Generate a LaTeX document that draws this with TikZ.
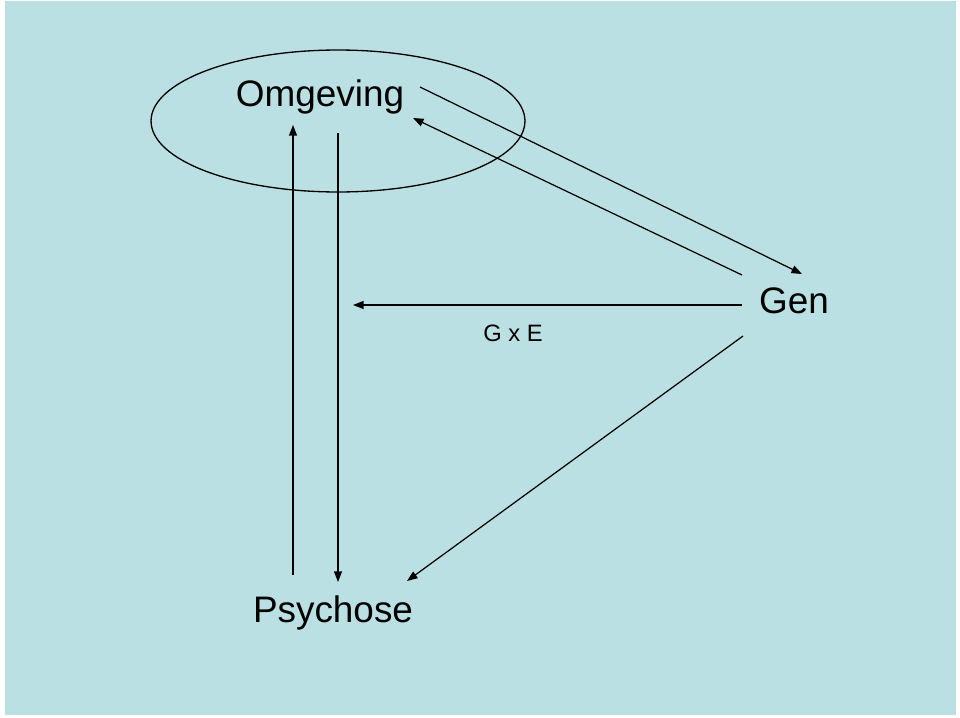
\documentclass[tikz,border=0pt]{standalone}
\usepackage{fontspec}
\setmainfont{Liberation Sans}
\usetikzlibrary{
    arrows.meta,
    positioning
}
\definecolor{ink}{RGB}{0,0,0}
\definecolor{slide}{RGB}{187,224,227}
\tikzset{
    line cap=round,
    line join=round,
    term/.style={
        font=\fontsize{21}{24}\selectfont,
        text=ink,
        inner sep=0pt
    },
    smallterm/.style={
        font=\fontsize{13.5}{15}\selectfont,
        text=ink,
        inner sep=0pt
    },
    relation/.style={
        -{Triangle[length=6pt,width=4.5pt]},
        draw=ink,
        line width=0.7pt
    },
    contour/.style={
        draw=ink,
        line width=0.75pt
    }
}

\begin{document}
\begin{tikzpicture}[x=0.02cm, y=-0.02cm]
\useasboundingbox (0,0) rectangle (960,717);
\fill[slide] (5,1) rectangle (956,715);

% Terms
\node[term] (omgeving) at (320,97) {Omgeving};
\node[term] (gen) at (794,301) {Gen};
\node[term] (psychose) at (333,613) {Psychose};
\node[smallterm] (gxe) at (513,333) {G x E};

% Environment contour
\draw[contour] (338,121) ellipse (3.74cm and 1.42cm);

% Arrow end points
\coordinate (up-from) at (293,575);
\coordinate (up-to) at (293,125);
\coordinate (down-from) at (338,133);
\coordinate (down-to) at (338,582);
\coordinate (og-from) at (420,87);
\coordinate (og-to) at (802,274);
\coordinate (go-from) at (742,275);
\coordinate (go-to) at (413,118);
\coordinate (gxe-from) at (742,305);
\coordinate (gxe-to) at (353,305);
\coordinate (gp-from) at (743,336);
\coordinate (gp-to) at (407,581);

% Relations
\draw[relation] (up-from) -- (up-to);
\draw[relation] (down-from) -- (down-to);
\draw[relation] (og-from) -- (og-to);
\draw[relation] (go-from) -- (go-to);
\draw[relation] (gxe-from) -- (gxe-to);
\draw[relation] (gp-from) -- (gp-to);
\end{tikzpicture}
\end{document}
